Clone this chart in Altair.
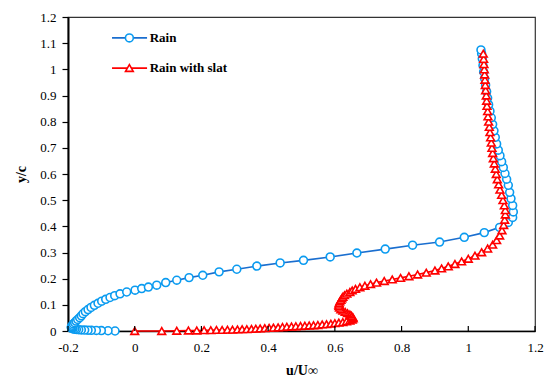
import altair as alt
import pandas as pd

# ---- data ----
rain_u = [-0.059, -0.08, -0.10, -0.115, -0.13, -0.14, -0.15, -0.16, -0.168, -0.175,
          -0.18, -0.185, -0.188, -0.19, -0.19, -0.189, -0.187, -0.184, -0.18, -0.176,
          -0.171, -0.165, -0.160, -0.155, -0.148, -0.140, -0.131, -0.121, -0.110, -0.099,
          -0.087, -0.074, -0.060, -0.044, -0.024, 0.001, 0.021, 0.041, 0.066, 0.093,
          0.126, 0.163, 0.204, 0.253, 0.306, 0.366, 0.436, 0.506, 0.586, 0.666,
          0.751, 0.833, 0.914, 0.988, 1.048, 1.094, 1.12, 1.133, 1.135, 1.133,
          1.128, 1.124, 1.12, 1.115, 1.11, 1.105, 1.10, 1.095, 1.09, 1.085,
          1.081, 1.077, 1.073, 1.069, 1.065, 1.061, 1.058, 1.055, 1.052, 1.049,
          1.046, 1.044, 1.042, 1.040, 1.038]
rain_y = [0.000, 0.001, 0.0015, 0.002, 0.0025, 0.003, 0.0035, 0.004, 0.005, 0.006,
          0.007, 0.008, 0.010, 0.012, 0.015, 0.018, 0.022, 0.027, 0.032, 0.038,
          0.044, 0.051, 0.058, 0.066, 0.074, 0.082, 0.090, 0.098, 0.106, 0.114,
          0.121, 0.128, 0.135, 0.142, 0.149, 0.156, 0.162, 0.168, 0.175, 0.185,
          0.194, 0.204, 0.213, 0.226, 0.236, 0.248, 0.260, 0.270, 0.283, 0.298,
          0.313, 0.328, 0.340, 0.358, 0.376, 0.396, 0.415, 0.434, 0.455, 0.48,
          0.506, 0.53, 0.557, 0.58, 0.602, 0.625, 0.647, 0.67, 0.691, 0.715,
          0.74, 0.765, 0.79, 0.815, 0.84, 0.865, 0.89, 0.915, 0.94, 0.965,
          0.99, 1.015, 1.04, 1.06, 1.074]

slat_u = [0.0, 0.081, 0.126, 0.161, 0.186, 0.208, 0.228, 0.245, 0.262, 0.278,
          0.293, 0.308, 0.322, 0.336, 0.35, 0.363, 0.376, 0.39, 0.403, 0.416,
          0.43, 0.443, 0.456, 0.47, 0.483, 0.497, 0.51, 0.523, 0.536, 0.549,
          0.562, 0.575, 0.588, 0.60, 0.612, 0.624, 0.635, 0.645, 0.652, 0.655,
          0.654, 0.65, 0.645, 0.638, 0.631, 0.624, 0.618, 0.614, 0.612, 0.612,
          0.613, 0.615, 0.618, 0.621, 0.624, 0.629, 0.636, 0.645, 0.652, 0.662,
          0.675, 0.690, 0.707, 0.725, 0.748, 0.772, 0.797, 0.822, 0.848, 0.874,
          0.90, 0.92, 0.94, 0.96, 0.98, 1.00, 1.02, 1.04, 1.058, 1.073,
          1.085, 1.094, 1.101, 1.106, 1.109, 1.111, 1.111, 1.108, 1.104, 1.10,
          1.095, 1.091, 1.087, 1.084, 1.081, 1.078, 1.075, 1.073, 1.071, 1.069,
          1.067, 1.065, 1.063, 1.061, 1.059, 1.058, 1.056, 1.055, 1.054, 1.052,
          1.051, 1.050, 1.049, 1.048, 1.047, 1.046, 1.045]
slat_y = [0.0, 0.0, 0.001, 0.002, 0.002, 0.003, 0.003, 0.004, 0.004, 0.005,
          0.005, 0.006, 0.007, 0.007, 0.008, 0.009, 0.010, 0.011, 0.012, 0.013,
          0.014, 0.015, 0.016, 0.017, 0.018, 0.019, 0.020, 0.021, 0.022, 0.023,
          0.025, 0.026, 0.028, 0.030, 0.032, 0.034, 0.037, 0.040, 0.044, 0.048,
          0.053, 0.058, 0.063, 0.068, 0.073, 0.078, 0.083, 0.089, 0.095, 0.101,
          0.107, 0.113, 0.119, 0.125, 0.131, 0.137, 0.143, 0.149, 0.155, 0.161,
          0.167, 0.173, 0.179, 0.185, 0.191, 0.197, 0.203, 0.209, 0.216, 0.223,
          0.231, 0.239, 0.247, 0.256, 0.266, 0.276, 0.288, 0.301, 0.315, 0.330,
          0.347, 0.365, 0.385, 0.405, 0.425, 0.445, 0.462, 0.48, 0.50, 0.52,
          0.54, 0.56, 0.58, 0.60, 0.62, 0.64, 0.66, 0.68, 0.70, 0.72,
          0.74, 0.76, 0.78, 0.80, 0.82, 0.84, 0.86, 0.88, 0.90, 0.92,
          0.94, 0.96, 0.98, 1.00, 1.02, 1.04, 1.06]

x_ticks = [-0.2, 0.0, 0.2, 0.4, 0.6, 0.8, 1.0, 1.2]
y_ticks = [0.0, 0.1, 0.2, 0.3, 0.4, 0.5, 0.6, 0.7, 0.8, 0.9, 1.0, 1.1, 1.2]

legend_labels = ["Rain", "Rain with slat"]
legend_y = [1.12, 1.005]
legend_line_u = [-0.068, 0.037]
legend_marker_u = -0.016
legend_text_u = 0.045

# ---- styles ----
FONT = "Liberation Serif"
BLUE_LINE = "#1a6ecf"
BLUE_MARK = "#0a9bf0"
RED = "#ff0000"
W, H = 467, 314

rain = pd.DataFrame({"u": rain_u, "y": rain_y, "i": range(len(rain_u))})
slat = pd.DataFrame({"u": slat_u, "y": slat_y, "i": range(len(slat_u))})

xscale = alt.Scale(domain=[-0.2, 1.2], nice=False, zero=False)
yscale = alt.Scale(domain=[0, 1.2], nice=False, zero=False)

neg_fmt = "datum.value < 0 ? '-' + format(-datum.value, '~g') : format(datum.value, '~g')"

x_axis = alt.Axis(values=x_ticks, labelExpr=neg_fmt, ticks=False, tickSize=0,
                  labelPadding=10, grid=False, domainColor="black", domainWidth=1.5,
                  labelFlush=False, labelOverlap=False,
                  titleX=W / 2, titleY=39, titleBaseline="middle",
                  titleFont=FONT, titleFontSize=14, titleFontWeight="bold",
                  labelFont=FONT, labelFontSize=13, labelColor="black",
                  titleColor="black")
y_axis = alt.Axis(values=y_ticks, labelExpr=neg_fmt, tickSize=6, tickColor="black",
                  tickWidth=1.2, labelPadding=6, grid=False, domainColor="black",
                  labelFlush=False, labelOverlap=False,
                  domainWidth=2, titleX=-47, titleY=H / 2, titleAngle=270,
                  titleAlign="center", titleBaseline="middle",
                  titleFont=FONT, titleFontSize=14, titleFontWeight="bold",
                  labelFont=FONT, labelFontSize=13, labelColor="black",
                  titleColor="black")


def X():
    return alt.X("u:Q", scale=xscale, title="u/U∞", axis=x_axis)


def Y():
    return alt.Y("y:Q", scale=yscale, title="y/c", axis=y_axis)


base_rain = alt.Chart(rain).encode(x=X(), y=Y(), order="i:Q")
base_slat = alt.Chart(slat).encode(x=X(), y=Y(), order="i:Q")

rain_line = base_rain.mark_line(color=BLUE_LINE, strokeWidth=1.6)
rain_pts = base_rain.mark_point(shape="circle", size=62, filled=True, fill="white",
                                stroke=BLUE_MARK, strokeWidth=1.6, opacity=1)
slat_line = base_slat.mark_line(color=RED, strokeWidth=1.6)
slat_pts = base_slat.mark_point(shape="triangle-up", size=60, filled=True, fill="white",
                                stroke=RED, strokeWidth=1.6, opacity=1)

# inward x-axis ticks
tick_df = pd.DataFrame({"u": x_ticks})
xticks = alt.Chart(tick_df).mark_rule(color="black", strokeWidth=1.2).encode(
    x=X(), y=alt.value(H), y2=alt.value(H - 5))

# legend built from data coordinates
leg_line_df = pd.DataFrame({
    "u": [legend_line_u[0], legend_line_u[1], legend_line_u[0], legend_line_u[1]],
    "y": [legend_y[0], legend_y[0], legend_y[1], legend_y[1]],
    "s": [legend_labels[0], legend_labels[0], legend_labels[1], legend_labels[1]],
})
leg_lines = alt.Chart(leg_line_df).mark_line(strokeWidth=1.8).encode(
    x=X(), y=Y(), detail="s:N",
    color=alt.Color("s:N", scale=alt.Scale(domain=legend_labels, range=[BLUE_LINE, RED]), legend=None))
leg_c = alt.Chart(pd.DataFrame({"u": [legend_marker_u], "y": [legend_y[0]]})).mark_point(
    shape="circle", size=62, filled=True, fill="white", stroke=BLUE_MARK, strokeWidth=1.6, opacity=1
).encode(x=X(), y=Y())
leg_t = alt.Chart(pd.DataFrame({"u": [legend_marker_u], "y": [legend_y[1]]})).mark_point(
    shape="triangle-up", size=60, filled=True, fill="white", stroke=RED, strokeWidth=1.6, opacity=1
).encode(x=X(), y=Y())
leg_text = alt.Chart(pd.DataFrame({"u": [legend_text_u] * 2, "y": legend_y, "s": legend_labels})).mark_text(
    align="left", baseline="middle", font=FONT, fontSize=13, fontWeight="bold", color="black"
).encode(x=X(), y=Y(), text="s:N")

chart = alt.layer(
    rain_line, rain_pts, slat_line, slat_pts, xticks, leg_lines, leg_c, leg_t, leg_text
).properties(
    width=W, height=H,
    autosize=alt.AutoSizeParams(type="none"),
    padding={"left": 68, "top": 17, "right": 9, "bottom": 50},
    background="white",
).configure_view(stroke="#333333", strokeWidth=1.2
).configure_axis(labelFont=FONT, titleFont=FONT
).configure_text(font=FONT)

chart.save("out.html", embed_options={"renderer": "svg", "actions": False})
